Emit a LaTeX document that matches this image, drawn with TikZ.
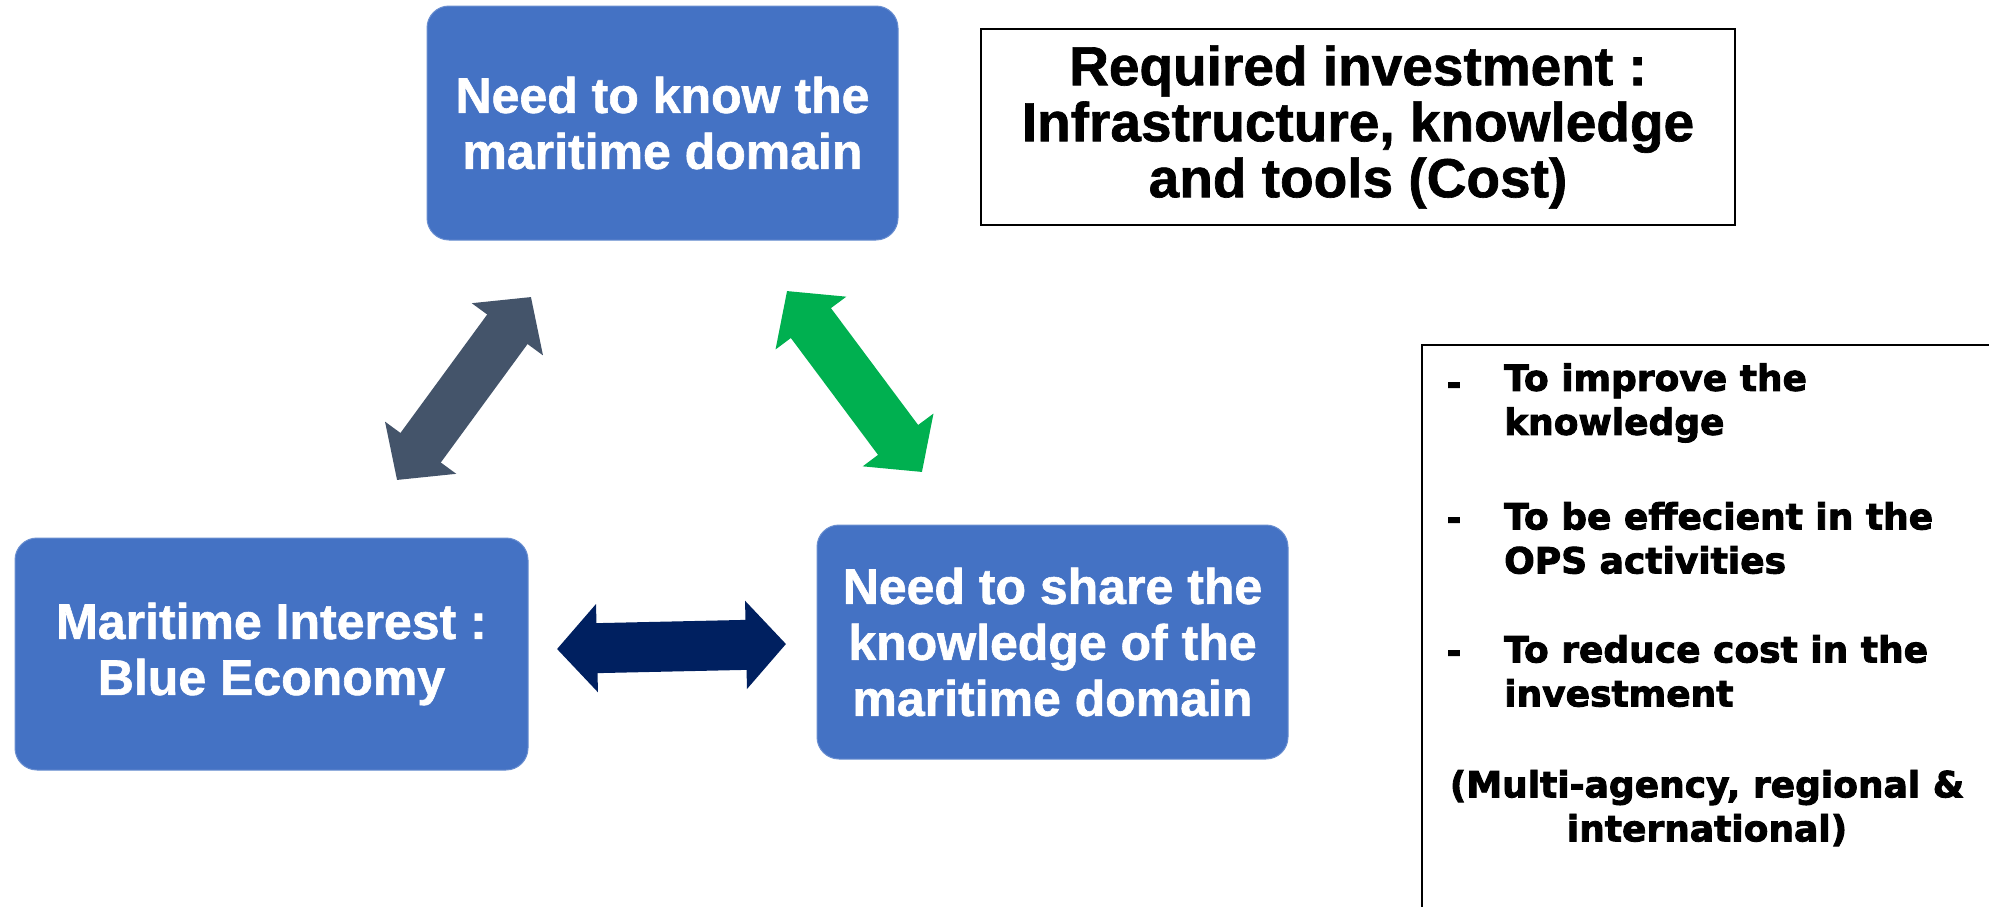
\documentclass[tikz,border=0pt]{standalone}
\usepackage{fontspec}
\setmainfont{Liberation Sans}[BoldFeatures={FakeBold=1.2}]
\newfontfamily\heavy{DejaVu Sans}[BoldFeatures={FakeBold=2.5}]
\usetikzlibrary{arrows.meta}
\definecolor{boxblue}{HTML}{4472C4}
\definecolor{slate}{HTML}{44546A}
\definecolor{greenarr}{HTML}{00B050}
\definecolor{navy}{HTML}{002060}
\tikzset{
  bluebox/.style={fill=boxblue, draw=boxblue!80!white, line width=1pt, rounded corners=22pt,
    text=white, align=center, inner sep=0pt,
    font=\fontsize{50}{56}\selectfont\bfseries},
  blockarrow/.style={line width=50pt,
    {Triangle[length=40pt,width=86pt]}-{Triangle[length=40pt,width=86pt]}},
  invbox/.style={draw=black, line width=2.5pt, align=center, inner sep=0pt,
    minimum width=754pt, minimum height=196pt,
    font=\fontsize{55}{56}\selectfont\bfseries},
  listtxt/.style={align=left, inner sep=0pt, text=black,
    font=\heavy\fontsize{36}{44}\selectfont\bfseries},
  dashtxt/.style={inner sep=0pt, font=\heavy\fontsize{36}{44}\selectfont\bfseries}
}
\begin{document}
\begin{tikzpicture}[x=1pt,y=-1pt]
\useasboundingbox (0,0) rectangle (1989,906);
\clip (0,0) rectangle (1989,906);
\fill[white] (0,0) rectangle (1989,906);

% blue boxes
\node[bluebox, minimum width=471pt, minimum height=234pt] (know) at (662.5,123)
  {Need to know the\\maritime domain};
\node[bluebox, minimum width=513pt, minimum height=232pt] (interest) at (271.5,654)
  {Maritime Interest :\\Blue Economy};
\node[bluebox, minimum width=471pt, minimum height=234pt] (share) at (1052.5,642)
  {Need to share the\\knowledge of the\\maritime domain};

% investment box
\node[invbox] (invest) at (1358,127)
  {Required investment :\\Infrastructure, knowledge\\and tools (Cost)};

% right box
\draw[line width=2pt] (2010,345) -- (1422,345) -- (1422,930);
\node[dashtxt] (d1) at (1454,389) {-};
\node[dashtxt] (d2) at (1454,524) {-};
\node[dashtxt] (d3) at (1454,657) {-};
\node[listtxt, anchor=west] (l1) at (1504,403) {To improve the\\knowledge};
\node[listtxt, anchor=west] (l2) at (1504,538) {To be effecient in the\\OPS activities};
\node[listtxt, anchor=west] (l3) at (1504,671) {To reduce cost in the\\investment};
\node[listtxt, align=center] (l4) at (1707,808) {(Multi-agency, regional \&\\international)};

% arrows
\coordinate (s1) at (397,480);
\coordinate (s2) at (531,297);
\coordinate (g1) at (787,291);
\coordinate (g2) at (922,472);
\coordinate (n1) at (557,649);
\coordinate (n2) at (786,644);
\draw[blockarrow, slate, fill=slate] (s1) -- (s2);
\draw[blockarrow, greenarr, fill=greenarr] (g1) -- (g2);
\draw[blockarrow, navy, fill=navy] (n1) -- (n2);
\end{tikzpicture}
\end{document}
